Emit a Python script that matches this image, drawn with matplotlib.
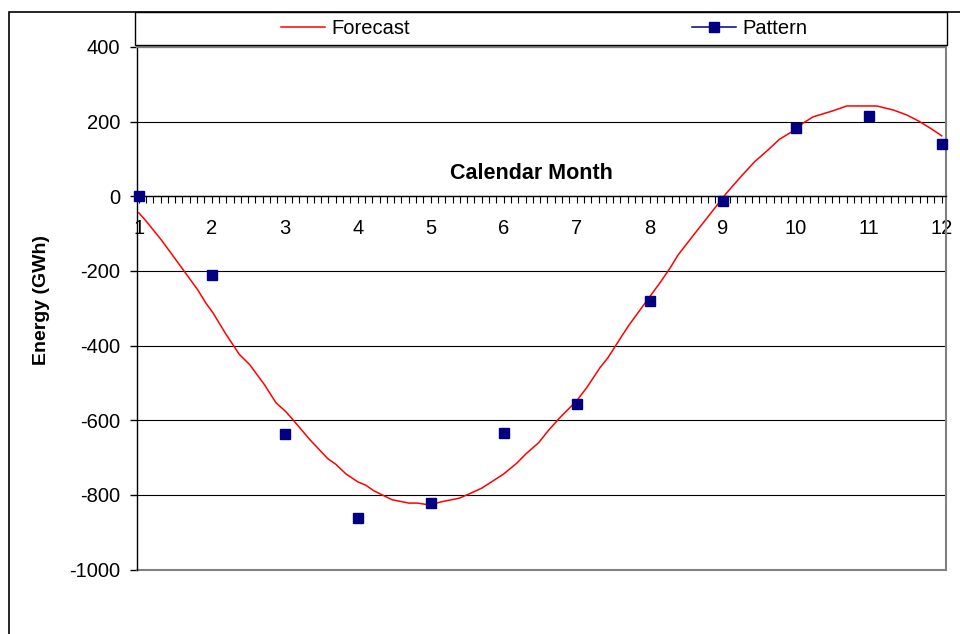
import matplotlib
matplotlib.use("Agg")
import matplotlib.pyplot as plt
from matplotlib.lines import Line2D
from matplotlib.patches import Rectangle
from matplotlib.ticker import MultipleLocator

# monthly pattern (GWh)
months = [1, 2, 3, 4, 5, 6, 7, 8, 9, 10, 11, 12]
pattern = [0, -210, -638, -863, -823, -633, -556, -281, -12, 182, 216, 141]

# forecast curve
fc_month = [1.00, 1.10, 1.31, 1.61, 1.81, 1.92, 2.02, 2.20, 2.38, 2.52, 2.72, 2.88,
            3.02, 3.11, 3.34, 3.59, 3.70, 3.84, 4.00, 4.11, 4.22, 4.47, 4.70, 4.82,
            4.98, 5.16, 5.39, 5.52, 5.70, 5.89, 6.00, 6.18, 6.30, 6.48, 6.61, 6.77,
            7.00, 7.14, 7.32, 7.43, 7.59, 7.71, 7.84, 7.99, 8.14, 8.28, 8.39, 8.60,
            8.73, 8.89, 9.05, 9.26, 9.44, 9.62, 9.78, 9.99, 10.10, 10.24, 10.51, 10.70,
            11.11, 11.34, 11.52, 11.70, 11.88, 12.00]
fc_value = [-44, -66, -117, -197, -251, -286, -313, -371, -424, -451, -504, -553,
            -578, -598, -651, -703, -718, -744, -765, -774, -789, -813, -822, -822,
            -827, -818, -809, -798, -782, -758, -744, -715, -691, -660, -628, -593,
            -548, -512, -459, -432, -383, -347, -312, -272, -232, -192, -157, -104,
            -72, -32, 8, 55, 93, 124, 153, 178, 196, 213, 229, 242,
            242, 231, 218, 200, 178, 162]

y_ticks = [-1000, -800, -600, -400, -200, 0, 200, 400]

plt.rcParams['font.family'] = ['Liberation Sans', 'DejaVu Sans']
plt.rcParams['axes.unicode_minus'] = False
FS = 14.5

W, H = 960, 634
fig = plt.figure(figsize=(W / 100, H / 100), dpi=100)

def fx(px):
    return px / W

def fy(py):
    return 1 - py / H

ax = fig.add_axes([fx(137), fy(569.5), fx(946 - 137), (569.5 - 47) / H])

ax.plot(fc_month, fc_value, color='#ff0000', lw=1.1, zorder=3)
ax.plot(months, pattern, linestyle='none', marker='s', ms=7,
        color='#000080', zorder=4, clip_on=False)

ax.set_xlim(0.977, 12.059)
ax.set_ylim(-1000, 400)

ax.set_yticks(y_ticks)
ax.set_xticks(months)
ax.xaxis.set_minor_locator(MultipleLocator(0.1))
ax.yaxis.grid(True, color='black', lw=0.8)
ax.set_axisbelow(True)

ax.spines['bottom'].set_position(('data', 0))
ax.spines['bottom'].set_linewidth(1.0)
ax.spines['left'].set_linewidth(1.0)
for s in ['top', 'right']:
    ax.spines[s].set_color('#808080')
    ax.spines[s].set_linewidth(1.5)
ax.axhline(-1000, color='#808080', lw=1.5, clip_on=False)

ax.tick_params(axis='y', direction='out', length=5, width=1, pad=7, labelsize=FS)
ax.tick_params(axis='x', which='both', direction='out', length=5, width=0.8,
               pad=11.5, labelsize=FS)

ax.set_xlabel('Calendar Month', fontsize=15.5, fontweight='bold')
ax.xaxis.set_label_coords(0.488, 0.778)
ax.set_ylabel('Energy (GWh)', fontsize=14, fontweight='bold')
ax.yaxis.set_label_coords(-0.107, 0.516)

# chart frame and legend box
fig.patches.append(Rectangle((fx(9), fy(700)), fx(1000), fy(12) - fy(700),
                             transform=fig.transFigure, fill=False,
                             ec='black', lw=1.2))
fig.patches.append(Rectangle((fx(135), fy(45)), fx(947 - 135), fy(12) - fy(45),
                             transform=fig.transFigure, facecolor='white',
                             ec='black', lw=1.0))

handles = [Line2D([], [], color='#ff0000', lw=1.1),
           Line2D([], [], color='#000080', lw=1.1, marker='s', ms=7)]
fig.legend(handles, ['Forecast', 'Pattern'], loc='center',
           bbox_to_anchor=(fx(544), fy(28.5)), ncol=2, frameon=False,
           fontsize=FS, handlelength=2.2, handletextpad=0.3, columnspacing=14.0,
           borderpad=0)

fig.savefig('out.png', dpi=100)
